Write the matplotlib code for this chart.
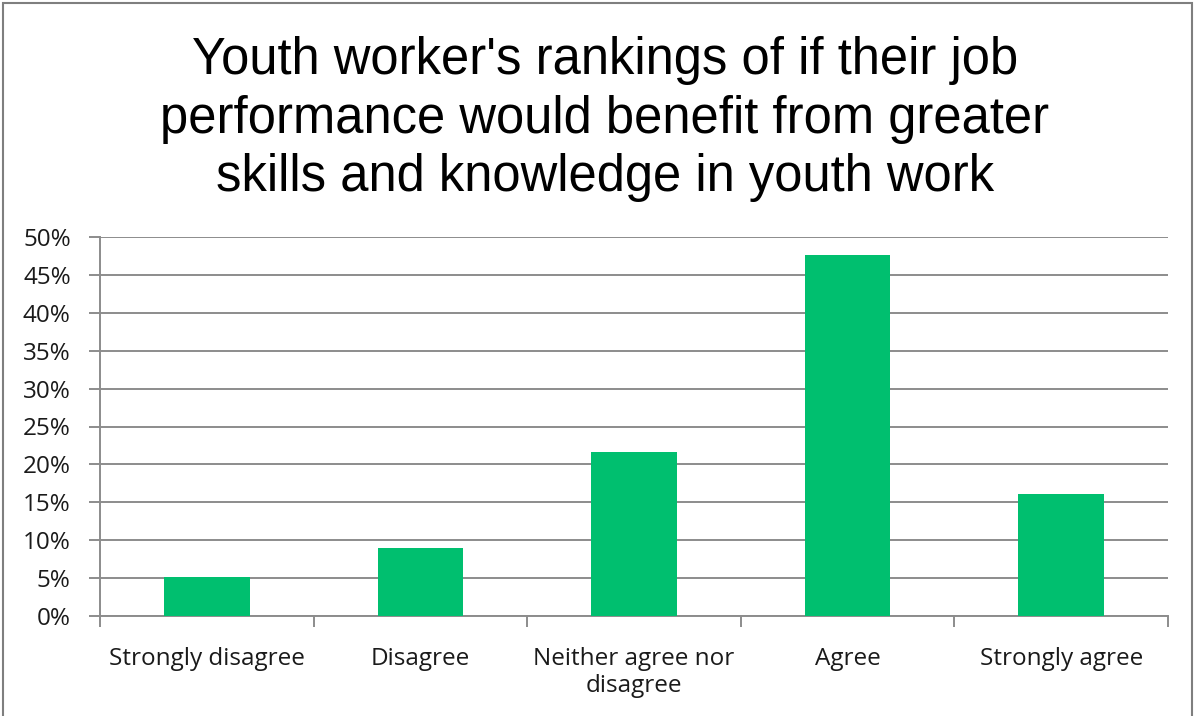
import matplotlib
matplotlib.use('Agg')
import matplotlib.pyplot as plt
from matplotlib.patches import Rectangle

# Survey responses (share of youth workers)
categories = ['Strongly disagree', 'Disagree', 'Neither agree nor\ndisagree',
              'Agree', 'Strongly agree']
shares = [5.1, 9.0, 21.7, 47.6, 16.1]
yticks = [0, 5, 10, 15, 20, 25, 30, 35, 40, 45, 50]

plt.rcParams['font.family'] = ['Open Sans', 'DejaVu Sans']
grid_col = '#8c8c8c'

fig = plt.figure(figsize=(11.95, 7.16), dpi=100)
ax = fig.add_axes([100/1195, 1-616/716, 1068/1195, 379/716])

x = range(len(categories))
ax.bar(x, shares, width=0.4, color='#00bf6f', zorder=3)

ax.set_xlim(-0.5, len(categories) - 0.5)
ax.set_ylim(0, 50)
ax.set_yticks(yticks)
ax.set_yticklabels(['%d%%' % v for v in yticks], fontsize=17.5, color='#1a1a1a')
ax.yaxis.grid(True, color=grid_col, linewidth=1.4, zorder=0)

# category labels centred, ticks at category boundaries
ax.set_xticks(list(x))
ax.set_xticklabels(categories, fontsize=17.5, color='#1a1a1a', linespacing=1.2)
ax.tick_params(axis='x', length=0, pad=22)
ax.set_xticks([i + 0.5 for i in range(-1, len(categories))], minor=True)
ax.tick_params(axis='x', which='minor', length=8, width=1.4, color=grid_col)
ax.tick_params(axis='y', length=8, width=1.4, color=grid_col, pad=13)

for s in ['top', 'right']:
    ax.spines[s].set_visible(False)
for s in ['left', 'bottom']:
    ax.spines[s].set_color(grid_col)
    ax.spines[s].set_linewidth(1.4)

fig.text(0.506, 1 - 36/716, "Youth worker's rankings of if their job\n"
         "performance would benefit from greater\n"
         "skills and knowledge in youth work",
         ha='center', va='top', fontsize=36.5, family='Liberation Sans',
         linespacing=1.25)

# chart area border
fig.patches.append(Rectangle((3/1195, -0.01), 1189/1195, 1.0 - 3/716 + 0.01,
                             transform=fig.transFigure, fill=False,
                             edgecolor='#7f7f7f', linewidth=1.5))

plt.savefig('out.png', dpi=100)
